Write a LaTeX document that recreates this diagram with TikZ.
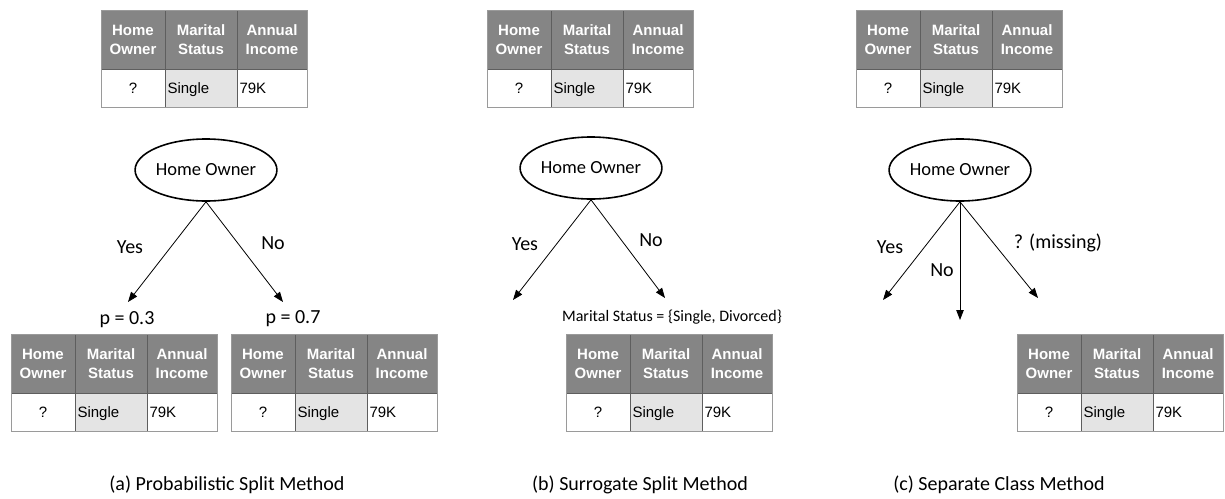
\documentclass[tikz,border=0pt]{standalone}
\usepackage{fontspec}
\setmainfont{Carlito}
\newfontfamily\tblfont{Liberation Sans}
\usetikzlibrary{arrows.meta,shapes.geometric}
\definecolor{hdrgray}{HTML}{858585}
\definecolor{cellgray}{HTML}{E4E4E4}
\definecolor{rulegray}{HTML}{5E5E5E}
\definecolor{edgegray}{HTML}{9A9A9A}
\tikzset{
  cell/.style={draw=rulegray, line width=1pt, inner sep=0pt, outer sep=0pt, anchor=north west},
  hdr/.style={cell, fill=hdrgray, text=white, minimum height=59pt, align=center,
    font=\tblfont\bfseries\fontsize{15}{19}\selectfont},
  dat/.style={cell, fill=white, minimum height=38pt, inner xsep=2.5pt,
    text height=12pt, text depth=2pt,
    font=\tblfont\fontsize{15}{18}\selectfont},
  hnode/.style={ellipse, draw, line width=1.6pt, minimum width=122pt, minimum height=62pt,
    inner sep=0pt, font=\fontsize{18.5}{20}\selectfont},
  conn/.style={-{Triangle[length=10pt,width=7.5pt]}, line width=0.8pt},
  lbl/.style={font=\fontsize{20}{22}\selectfont, inner sep=0pt},
  captxt/.style={font=\fontsize{20}{22}\selectfont, inner sep=0pt},
  msl/.style={font=\fontsize{16}{18}\selectfont, inner sep=0pt}
}
\newcommand\mktable[3]{%
  \begin{scope}[shift={(#2,#3)}]
    \node[hdr, minimum width=64pt] (#1-h1) at (0,0) {Home\\Owner};
    \node[hdr, minimum width=72pt] (#1-h2) at (64,0) {Marital\\Status};
    \node[hdr, minimum width=70pt] (#1-h3) at (136,0) {Annual\\Income};
    \node[dat, minimum width=64pt, text width=59pt, align=center] (#1-d1) at (0,59) {?};
    \node[dat, fill=cellgray, minimum width=72pt, text width=67pt, align=left] (#1-d2) at (64,59) {Single};
    \node[dat, minimum width=70pt, text width=65pt, align=left] (#1-d3) at (136,59) {79K};
    \draw[edgegray, line width=1pt] (#1-h1.north west) rectangle (#1-d3.south east);
  \end{scope}}
\begin{document}
\begin{tikzpicture}[x=1pt, y=-1pt]
\useasboundingbox (0,0) rectangle (1225,498);
% ---------- (a)
\mktable{ta}{101}{10}
\node[hnode] (ea) at (206,170) {Home Owner};
\coordinate (ya) at (128,302);
\coordinate (na) at (283,302);
\draw[conn] (ea.south) -- (ya);
\draw[conn] (ea.south) -- (na);
\node[lbl] (lya) at (130,247) {Yes};
\node[lbl] (lna) at (273,243) {No};
\node[lbl] (pa1) at (127,320) {p = 0.3};
\node[lbl] (pa2) at (293,319) {p = 0.7};
\mktable{tb1}{11}{334}
\mktable{tb2}{231}{334}
\node[captxt] (capa) at (227,485) {(a) Probabilistic Split Method};
% ---------- (b)
\mktable{tb}{487}{10}
\node[hnode] (eb) at (591,168) {Home Owner};
\coordinate (yb) at (513,300);
\coordinate (nb) at (665,298);
\draw[conn] (eb.south) -- (yb);
\draw[conn] (eb.south) -- (nb);
\node[lbl] (lyb) at (525,244) {Yes};
\node[lbl] (lnb) at (651,240) {No};
\node[msl] (ms) at (672,317) {Marital Status = \{Single, Divorced\}};
\mktable{tbb}{566}{334}
\node[captxt] (capb) at (640,485) {(b) Surrogate Split Method};
% ---------- (c)
\mktable{tc}{856}{10}
\node[hnode] (ec) at (960,170) {Home Owner};
\coordinate (yc) at (883,300);
\coordinate (nc) at (960,320);
\coordinate (mc) at (1038,298);
\draw[conn] (ec.south) -- (yc);
\draw[conn] (ec.south) -- (nc);
\draw[conn] (ec.south) -- (mc);
\node[lbl] (lyc) at (890,247) {Yes};
\node[lbl] (lnc) at (942,270) {No};
\node[lbl] (lmc) at (1058,243) {? (missing)};
\mktable{tcb}{1017}{334}
\node[captxt] (capc) at (999,485) {(c) Separate Class Method};
\end{tikzpicture}
\end{document}
